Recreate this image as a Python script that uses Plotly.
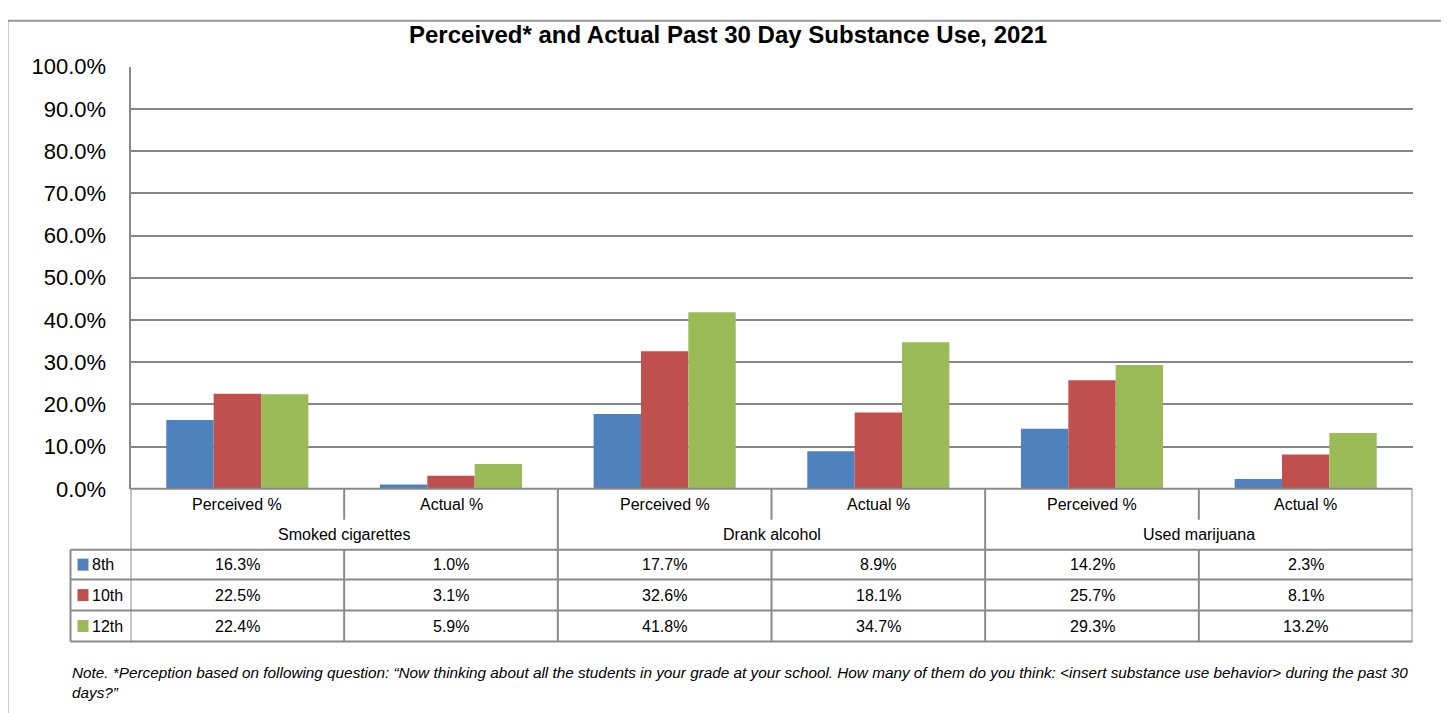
import plotly.graph_objects as go

# ---- data ----
categories = ["Perceived %", "Actual %", "Perceived %", "Actual %", "Perceived %", "Actual %"]
groups = ["Smoked cigarettes", "Drank alcohol", "Used marijuana"]
series_names = ["8th", "10th", "12th"]
grade8 = [16.3, 1.0, 17.7, 8.9, 14.2, 2.3]
grade10 = [22.5, 3.1, 32.6, 18.1, 25.7, 8.1]
grade12 = [22.4, 5.9, 41.8, 34.7, 29.3, 13.2]
y_ticks = [0, 10, 20, 30, 40, 50, 60, 70, 80, 90, 100]

colors = ["#4F81BD", "#C0504D", "#9BBB59"]
series = [grade8, grade10, grade12]

W, H = 1449, 713
FONT = "Liberation Sans Narrow, Arial Narrow, Liberation Sans, Arial, sans-serif"
GRID = "#878787"
LINE = "#8a8a8a"

# mapping from target-image pixels to figure paper coordinates
X_OFF = 7.5
Y_OFF, Y_SCALE = 20.2, 0.967

def px(x):
    return (x - X_OFF) / W

def py_raw(y):
    return 1 - ((y - Y_OFF) / Y_SCALE) / H

def py(y):
    return min(max(py_raw(y), 0.0), 1.0)

plot_left, plot_right = 130, 1412
plot_top, plot_bottom = 67, 490

fig = go.Figure()
xs = list(range(len(categories)))
for name, vals, c in zip(series_names, series, colors):
    fig.add_trace(go.Bar(x=xs, y=vals, name=name, marker=dict(color=c, line=dict(width=0)),
                         hoverinfo="skip"))

shapes = []
annotations = []

# outer frame (top, left, right edges; bottom runs off the page)
shapes.append(dict(type="rect", xref="paper", yref="paper", x0=px(7), x1=px(1444), y0=py_raw(730), y1=py(21),
                   line=dict(color="#999999", width=2), layer="below"))

row_hdr = (490, 521)
row_grp = (521, 551)
data_rows = [(551, 581), (581, 612), (612, 643)]
legend_left = 70

ncat = len(categories)
for k in range(ncat + 1):
    xv = k - 0.5
    if k % 2 == 0:
        y0, y1 = 490, 643
    else:
        shapes.append(dict(type="line", xref="x", yref="paper", x0=xv, x1=xv, y0=py(row_hdr[0]), y1=py(row_hdr[1]),
                           line=dict(color=LINE, width=2)))
        y0, y1 = 551, 643
    shapes.append(dict(type="line", xref="x", yref="paper", x0=xv, x1=xv, y0=py(y0), y1=py(y1),
                       line=dict(color=LINE, width=2)))
shapes.append(dict(type="line", xref="paper", yref="paper", x0=px(legend_left), x1=px(legend_left),
                   y0=py(551), y1=py(643), line=dict(color=LINE, width=2)))
shapes.append(dict(type="line", xref="x", yref="paper", x0=-0.5, x1=ncat - 0.5, y0=py(490), y1=py(490),
                   line=dict(color=LINE, width=2)))
for yl in [551, 581, 612, 643]:
    shapes.append(dict(type="line", xref="paper", yref="paper", x0=px(legend_left), x1=px(plot_right),
                       y0=py(yl), y1=py(yl), line=dict(color=LINE, width=2)))

def cell_text(x, y, text, xref="x", xanchor="center", size=16):
    annotations.append(dict(x=x, y=y, xref=xref, yref="paper", text=text, showarrow=False,
                            xanchor=xanchor, yanchor="middle",
                            font=dict(size=size, color="#000000", family=FONT)))

for i, cat in enumerate(categories):
    cell_text(i, py(sum(row_hdr) / 2), cat)
for g, gname in enumerate(groups):
    cell_text(2 * g + 0.5, py(sum(row_grp) / 2), gname)
for r, (name, vals, c) in enumerate(zip(series_names, series, colors)):
    yc = sum(data_rows[r]) / 2
    for i, v in enumerate(vals):
        cell_text(i, py(yc), f"{v:.1f}%")
    shapes.append(dict(type="rect", xref="paper", yref="paper", x0=px(77), x1=px(88), y0=py(yc + 6),
                       y1=py(yc - 6), fillcolor=c, line=dict(width=0)))
    cell_text(px(89), py(yc), name, xref="paper", xanchor="left")

# title
annotations.append(dict(x=px(727), y=py(35), xref="paper", yref="paper", xanchor="center", yanchor="middle",
                        text="<b>Perceived* and Actual Past 30 Day Substance Use, 2021</b>", showarrow=False,
                        font=dict(size=24, color="#000000", family="Liberation Sans, Arial, sans-serif")))
# note
annotations.append(dict(x=px(69), y=py(664), xref="paper", yref="paper", xanchor="left", yanchor="top",
                        align="left",
                        text=("<i>Note. *Perception based on following question: \u201cNow thinking about all the students in your grade at your school. "
                              "How many of them do you think: &lt;insert substance use behavior&gt; during the past 30<br>days?\u201d</i>"),
                        showarrow=False, font=dict(size=15.3, color="#000000", family=FONT)))

fig.update_layout(
    width=W, height=H,
    margin=dict(l=0, r=0, t=0, b=0),
    paper_bgcolor="white", plot_bgcolor="white",
    barmode="group", bargap=0.335, bargroupgap=0,
    showlegend=False,
    shapes=shapes, annotations=annotations,
    xaxis=dict(domain=[px(plot_left), px(plot_right)], range=[-0.5, ncat - 0.5], showticklabels=False,
               showgrid=False, zeroline=False, showline=False, fixedrange=True),
    yaxis=dict(domain=[py(plot_bottom), py(plot_top)], range=[0, 100], tickvals=y_ticks,
               ticktext=[f"{t:.1f}%" for t in y_ticks], showgrid=True, gridcolor=GRID, gridwidth=2,
               zeroline=False, showline=True, linecolor=GRID, linewidth=2,
               ticks="", ticklabelstandoff=18,
               tickfont=dict(size=22, color="#000000", family=FONT), fixedrange=True),
    font=dict(family=FONT),
)

fig.write_html("out.html")
